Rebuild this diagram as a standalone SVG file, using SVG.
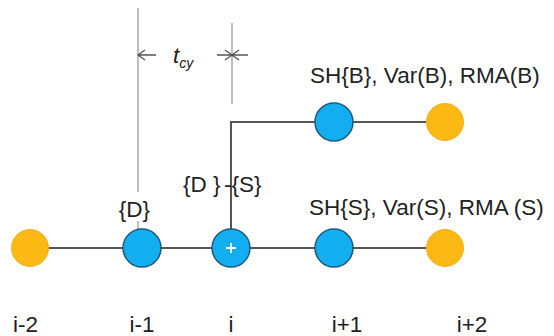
<svg xmlns="http://www.w3.org/2000/svg" width="554" height="336" viewBox="0 0 554 336">
<style>
.t{font-family:"Liberation Sans",Arial,sans-serif;font-size:22.5px;fill:#222}
.b{fill:#12AEEF;stroke:#1E5A78;stroke-width:1.5}
.o{fill:#FDB913;stroke:#F5B020;stroke-width:1}
.e{stroke:#555;stroke-width:2;fill:none}
.d{stroke:#A8A8A8;stroke-width:1.5;fill:none}
.a{stroke:#555;stroke-width:1.3;fill:none}
</style>
<rect width="554" height="336" fill="#fff"/>
<g id="dimension">
<line class="d" x1="138" y1="8" x2="138" y2="192"/>
<line class="d" x1="138" y1="221" x2="138" y2="229"/>
<line class="d" x1="232" y1="23" x2="232" y2="104"/>
<path class="a" d="M138 55H156M145 50L138 55L145 60"/>
<path class="a" d="M217 55H248M225 50L232 55L225 60M239 50L232 55L239 60"/>
<text class="t" x="173" y="63" font-style="italic" font-size="21">t<tspan font-size="14" dy="5">cy</tspan></text>
</g>
<g id="connectors">
<line class="e" x1="30" y1="248" x2="445" y2="248"/>
<path class="e" d="M231 229V122H445"/>
</g>
<g id="node-i-2"><circle class="o" cx="30" cy="248" r="18.5"/><text class="t" x="25.5" y="332" text-anchor="middle">i-2</text></g>
<g id="node-i-1"><circle class="b" cx="142" cy="248" r="19"/><text class="t" x="142" y="332" text-anchor="middle">i-1</text><text class="t" x="134.5" y="217" text-anchor="middle">{D}</text></g>
<g id="node-i"><circle class="b" cx="231" cy="248" r="19"/><path d="M226 248H236M231 243V253" stroke="#fff" stroke-width="1.8"/><text class="t" x="231" y="332" text-anchor="middle">i</text>
<text class="t" x="183" y="192">{D }</text><text class="t" x="224" y="192">-{S}</text></g>
<g id="node-i+1"><circle class="b" cx="334" cy="248" r="19"/><text class="t" x="347" y="332" text-anchor="middle">i+1</text></g>
<g id="node-i+2"><circle class="o" cx="445" cy="248" r="18.5"/><text class="t" x="472" y="332" text-anchor="middle">i+2</text><text class="t" x="309" y="215">SH{S}, Var(S), RMA (S)</text></g>
<g id="node-b1"><circle class="b" cx="334" cy="122" r="19"/></g>
<g id="node-b2"><circle class="o" cx="445" cy="122" r="18.5"/><text class="t" x="310" y="83">SH{B}, Var(B), RMA(B)</text></g>
</svg>
